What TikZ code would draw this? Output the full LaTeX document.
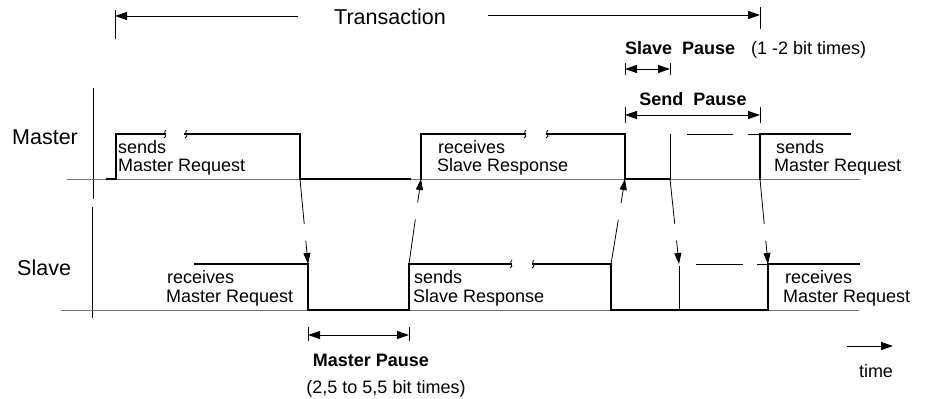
\documentclass[tikz,border=0pt]{standalone}
\usepackage{fontspec}
\setmainfont{Liberation Sans}
\usetikzlibrary{arrows.meta}
\begin{document}
\begin{tikzpicture}[x=1pt,y=-1pt,
  sig/.style={line width=1.8pt, line join=miter, line cap=rect},
  thinsig/.style={line width=0.8pt},
  base/.style={line width=1pt, draw=black!55},
  axis/.style={line width=1pt},
  squig/.style={line width=0.8pt},
  conn/.style={line width=0.8pt, dash pattern=on 45pt off 17pt, -{Triangle[length=11pt,width=7pt]}},
  dimline/.style={line width=1pt},
  dimtip/.style={{Triangle[length=12pt,width=8pt]}-{Triangle[length=12pt,width=8pt]}},
  onetip/.style={-{Triangle[length=12pt,width=8pt]}},
  txt/.style={font=\fontsize{18}{20}\selectfont, inner sep=0pt},
  bigtxt/.style={font=\fontsize{21.5}{24}\selectfont, inner sep=0pt},
  boldtxt/.style={font=\fontsize{18}{20}\selectfont\bfseries, inner sep=0pt}
]
\useasboundingbox (0,0) rectangle (927,399);

% ---------- named points ----------
\coordinate (m1) at (300,179);
\coordinate (s1) at (308,264);
\coordinate (s2) at (409,264);
\coordinate (m2) at (421,179);
\coordinate (s3) at (611,264);
\coordinate (m3) at (625,179);
\coordinate (m4) at (670,179);
\coordinate (s4) at (679,264);
\coordinate (m5) at (760,179);
\coordinate (s5) at (768,264);

% ---------- axes and base lines ----------
\draw[axis] (93,88) -- (93,199);
\draw[axis] (92,207) -- (92,318);
\draw[base] (67,179) -- (860,179);
\draw[base] (61,310) -- (859,310);

% ---------- labels of rows ----------
\node[bigtxt, anchor=base west] (lmaster) at (12,144) {Master};
\node[bigtxt, anchor=base west] (lslave) at (17,275) {Slave};

% ---------- master signal ----------
\draw[sig] (107,179) -- (116,179) -- (116,134) -- (165,134);
\draw[sig] (185,134) -- (m1 |- 0,134) -- (m1) -- (410,179);
\draw[sig] (m2) -- (421,134) -- (525,134);
\draw[sig] (547,134) -- (625,134) -- (m3) -- (m4);
\draw[thinsig] (m4) -- (670,134);
\draw[thinsig] (687,134) -- (733,134);
\draw[thinsig] (748,134) -- (760,134);
\draw[sig] (m5) -- (760,134) -- (850,134);

% break marks master
\draw[squig] (166,130) .. controls (162,132) and (169,136) .. (164,138);
\draw[squig] (187,130) .. controls (183,132) and (190,136) .. (185,138);
\draw[squig] (526,130) .. controls (522,132) and (529,136) .. (524,138);
\draw[squig] (548,130) .. controls (544,132) and (551,136) .. (546,138);

% ---------- slave signal ----------
\draw[sig] (195,264) -- (s1) -- (308,310) -- (409,310) -- (s2) -- (511,264);
\draw[sig] (533,264) -- (s3) -- (611,310) -- (768,310) -- (s5) -- (859,264);
\draw[thinsig] (679,310) -- (679,266);
\draw[thinsig] (696,264) -- (743,264);
\draw[thinsig] (757,264) -- (768,264);

% break marks slave
\draw[squig] (512,260) .. controls (508,262) and (515,266) .. (510,268);
\draw[squig] (534,260) .. controls (530,262) and (537,266) .. (532,268);

% ---------- texts on signals ----------
\node[txt, anchor=base west] (t1a) at (118,153) {sends};
\node[txt, anchor=base west] (t1b) at (118,171) {Master Request};
\node[txt, anchor=base west] (t2a) at (438,153) {receives};
\node[txt, anchor=base west] (t2b) at (437,171) {Slave Response};
\node[txt, anchor=base west] (t3a) at (776,153) {sends};
\node[txt, anchor=base west] (t3b) at (774,171) {Master Request};
\node[txt, anchor=base west] (t4a) at (167,283) {receives};
\node[txt, anchor=base west] (t4b) at (166,302) {Master Request};
\node[txt, anchor=base west] (t5a) at (414,283) {sends};
\node[txt, anchor=base west] (t5b) at (413,302) {Slave Response};
\node[txt, anchor=base west] (t6a) at (785,283) {receives};
\node[txt, anchor=base west] (t6b) at (783,302) {Master Request};

% ---------- connectors ----------
\draw[conn] (m1) -- (s1);
\draw[conn] (s2) -- (m2);
\draw[conn] (s3) -- (m3);
\draw[conn] (m4) -- (s4);
\draw[conn] (m5) -- (s5);

% ---------- transaction ----------
\coordinate (trL) at (115,16);
\coordinate (trR) at (760,15);
\draw[axis] (115,10) -- (115,39);
\draw[axis] (760,7) -- (760,29);
\node[bigtxt, anchor=base] (trans) at (390,24) {Transaction};
\draw[dimline, onetip] (298,16) -- (trL);
\draw[dimline, onetip] (488,15) -- (trR);

% ---------- slave pause ----------
\node[boldtxt, anchor=base west] (sp) at (625,54) {Slave\ \ Pause};
\node[txt, anchor=base west] (spt) at (751,54) {(1 -2 bit times)};
\coordinate (spL) at (625,69);
\coordinate (spR) at (670,69);
\draw[axis] (625,63) -- (625,75);
\draw[axis] (670,63) -- (670,75);
\draw[dimline, dimtip] (spL) -- (spR);

% ---------- send pause ----------
\node[boldtxt, anchor=base] (sdp) at (693,105) {Send\ \ Pause};
\coordinate (sdL) at (625,115);
\coordinate (sdR) at (760,115);
\draw[axis] (625,107) -- (625,123);
\draw[axis] (760,107) -- (760,123);
\draw[dimline, dimtip] (sdL) -- (sdR);

% ---------- master pause ----------
\coordinate (mpL) at (308,335);
\coordinate (mpR) at (409,335);
\draw[axis] (308,327) -- (308,341);
\draw[axis] (409,327) -- (409,341);
\draw[dimline, dimtip] (mpL) -- (mpR);
\node[boldtxt, anchor=base] (mp) at (371,366) {Master Pause};
\node[txt, anchor=base] (mpt) at (386,393) {(2,5 to 5,5 bit times)};

% ---------- time ----------
\coordinate (tmL) at (847,346);
\coordinate (tmR) at (893,346);
\draw[dimline, onetip] (tmL) -- (tmR);
\node[txt, anchor=base] (tm) at (876,377) {time};
\end{tikzpicture}
\end{document}
